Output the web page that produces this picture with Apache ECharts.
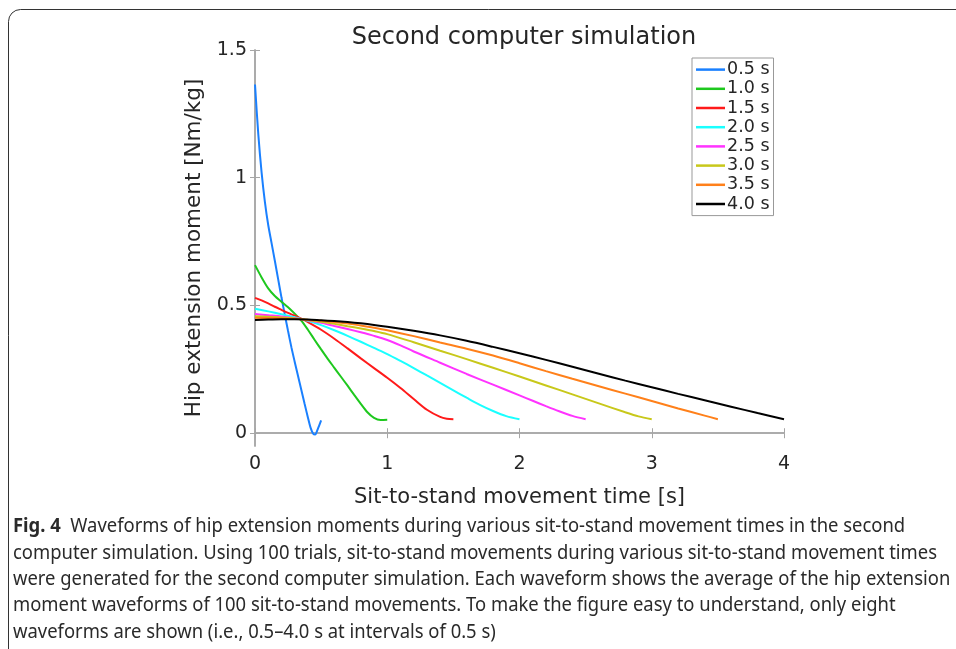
<!DOCTYPE html>
<html>
<head>
<meta charset="utf-8">
<script src="https://cdn.jsdelivr.net/npm/echarts@6/dist/echarts.min.js"></script>
<style>
html,body{margin:0;padding:0;background:#fff;}
#chart{width:956px;height:649px;}
</style>
</head>
<body>
<div id="chart"></div>
<script>
// ---- data ----
const seriesNames = ['0.5 s','1.0 s','1.5 s','2.0 s','2.5 s','3.0 s','3.5 s','4.0 s'];
const xTicks = [0,1,2,3,4];
const yTicks = [0,0.5,1,1.5];

const t05 = [0,0.025,0.05,0.075,0.1,0.125,0.15,0.175,0.2,0.225,0.25,0.275,0.3,0.325,0.35,0.375,0.4,0.42,0.44,0.455,0.47,0.485,0.5];
const v05 = [1.365,1.17,1.02,0.905,0.815,0.745,0.675,0.603,0.532,0.465,0.4,0.337,0.28,0.225,0.17,0.115,0.062,0.022,-0.002,-0.005,0.01,0.03,0.05];

const t10 = [0,0.05,0.1,0.15,0.2,0.25,0.3,0.35,0.4,0.45,0.5,0.55,0.6,0.65,0.7,0.75,0.8,0.85,0.9,0.95,1.0];
const v10 = [0.658,0.61,0.567,0.537,0.515,0.493,0.468,0.441,0.405,0.366,0.328,0.291,0.256,0.221,0.186,0.15,0.115,0.082,0.06,0.052,0.053];

const t15 = [0,0.05,0.1,0.15,0.2,0.25,0.3,0.35,0.4,0.5,0.6,0.7,0.8,0.9,1.0,1.1,1.2,1.3,1.4,1.45,1.5];
const v15 = [0.53,0.52,0.508,0.495,0.483,0.471,0.46,0.448,0.435,0.405,0.37,0.332,0.293,0.255,0.217,0.177,0.134,0.092,0.064,0.057,0.055];

const t20 = [0,0.1,0.2,0.3,0.4,0.5,0.6,0.7,0.8,0.9,1.0,1.1,1.2,1.3,1.4,1.5,1.6,1.7,1.8,1.9,2.0];
const v20 = [0.487,0.477,0.466,0.454,0.44,0.423,0.403,0.381,0.358,0.334,0.31,0.283,0.255,0.226,0.197,0.168,0.139,0.111,0.087,0.067,0.055];

const t25 = [0,0.1,0.2,0.3,0.4,0.5,0.6,0.7,0.8,0.9,1.0,1.1,1.2,1.4,1.6,1.8,2.0,2.1,2.2,2.3,2.4,2.5];
const v25 = [0.467,0.462,0.457,0.45,0.442,0.432,0.42,0.408,0.395,0.381,0.365,0.344,0.32,0.276,0.232,0.19,0.148,0.127,0.106,0.086,0.068,0.055];

const t30 = [0,0.1,0.2,0.3,0.4,0.5,0.6,0.7,0.8,0.9,1.0,1.2,1.4,1.6,1.8,2.0,2.2,2.4,2.6,2.8,2.9,3.0];
const v30 = [0.458,0.456,0.453,0.449,0.443,0.436,0.428,0.419,0.41,0.4,0.388,0.356,0.323,0.29,0.256,0.222,0.187,0.152,0.117,0.082,0.066,0.055];

const t35 = [0,0.1,0.2,0.3,0.4,0.5,0.6,0.7,0.8,0.9,1.0,1.2,1.4,1.6,1.8,2.0,2.2,2.4,2.6,2.8,3.0,3.2,3.4,3.5];
const v35 = [0.452,0.451,0.45,0.448,0.444,0.44,0.435,0.429,0.422,0.413,0.403,0.38,0.355,0.331,0.304,0.274,0.243,0.213,0.184,0.155,0.126,0.097,0.069,0.055];

const t40 = [0,0.1,0.2,0.3,0.4,0.5,0.6,0.7,0.8,0.9,1.0,1.2,1.4,1.6,1.8,2.0,2.2,2.4,2.6,2.8,3.0,3.2,3.4,3.6,3.8,4.0];
const v40 = [0.443,0.445,0.446,0.446,0.445,0.442,0.439,0.435,0.43,0.424,0.417,0.401,0.383,0.362,0.338,0.313,0.287,0.26,0.233,0.206,0.18,0.154,0.129,0.104,0.079,0.055];

const times = [t05,t10,t15,t20,t25,t30,t35,t40];
const values = [v05,v10,v15,v20,v25,v30,v35,v40];
const colors = ['#1a80ff','#1ec81e','#ff1a1a','#1affff','#ff33ff','#c8c81a','#ff801a','#000000'];

const captionLines = [
  ['Fig. 4', '  Waveforms of hip extension moments during various sit-to-stand movement times in the second'],
  ['', 'computer simulation. Using 100 trials, sit-to-stand movements during various sit-to-stand movement times'],
  ['', 'were generated for the second computer simulation. Each waveform shows the average of the hip extension'],
  ['', 'moment waveforms of 100 sit-to-stand movements. To make the figure easy to understand, only eight'],
  ['', 'waveforms are shown (i.e., 0.5\u20134.0 s at intervals of 0.5 s)']
];

// ---- chart ----
const FONT = 'DejaVu Sans';
const CAPFONT = 'Noto Sans';
const CAPSIZE = 19;
const axisGray = '#a6a6a6';
const textCol = '#262626';

// horizontal squeeze so the caption font matches the condensed look
const mctx = document.createElement('canvas').getContext('2d');
mctx.font = CAPSIZE + 'px "' + CAPFONT + '"';
const capScale = 924 / mctx.measureText(captionLines[1][1]).width;

const chart = echarts.init(document.getElementById('chart'), null, {renderer:'canvas'});

const series = seriesNames.map((n,i)=>({
  name:n, type:'line', symbol:'none', smooth:0.3,
  data: times[i].map((t,j)=>[t, values[i][j]]),
  lineStyle:{color:colors[i], width:2},
  itemStyle:{color:colors[i]},
  emphasis:{disabled:true},
  z: 2 + i
}));

const capGraphics = captionLines.map((ln,i)=>({
  type:'text', x:13, y:527 + i*26.3, scaleX:capScale, silent:true,
  style:{
    text: (ln[0] ? '{b|' + ln[0] + '}' : '') + ln[1],
    x:0, y:0, verticalAlign:'middle', align:'left',
    fill:'#2a2a2a', fontFamily:CAPFONT, fontSize:CAPSIZE,
    rich:{b:{fontWeight:'bold', fontFamily:CAPFONT, fontSize:CAPSIZE, fill:'#2a2a2a'}}
  }
}));

const option = {
  animation:false,
  backgroundColor:'#fff',
  title:{
    text:'Second computer simulation', left:519, top:21, textAlign:'center',
    textStyle:{fontFamily:FONT, fontSize:24, fontWeight:'normal', color:textCol}
  },
  legend:{
    orient:'vertical', left:692, top:58, data:seriesNames,
    icon:'rect', itemWidth:29, itemHeight:2.5, itemGap:0,
    backgroundColor:'#fff', borderColor:'#999', borderWidth:1,
    padding:[2,4,2,4],
    textStyle:{fontFamily:FONT, fontSize:17.5, color:textCol, lineHeight:19.2, padding:[0,0,0,-3]},
    selectedMode:false
  },
  grid:{left:255, right:172, top:50, bottom:203, containLabel:false},
  xAxis:[{
    type:'value', min:0, max:4, interval:1, position:'bottom',
    name:'Sit-to-stand movement time [s]', nameLocation:'middle', nameGap:41,
    nameTextStyle:{fontFamily:FONT, fontSize:21, color:textCol},
    axisLine:{show:true, lineStyle:{color:axisGray, width:1.5}},
    axisTick:{show:true, inside:true, length:5, lineStyle:{color:axisGray}},
    axisLabel:{fontFamily:FONT, fontSize:19, color:textCol, margin:9, customValues:xTicks},
    splitLine:{show:false}
  },{
    type:'value', min:0, max:4, interval:1, position:'top',
    axisLine:{show:true, lineStyle:{color:axisGray, width:1.5}},
    axisTick:{show:true, inside:true, length:5, lineStyle:{color:axisGray}},
    axisLabel:{show:false}, splitLine:{show:false}
  }],
  yAxis:[{
    type:'value', min:-0.05, max:1.5, position:'left',
    name:'Hip extension moment [Nm/kg]', nameLocation:'middle', nameGap:48, nameRotate:90,
    nameTextStyle:{fontFamily:FONT, fontSize:21.5, color:textCol},
    axisLine:{show:true, lineStyle:{color:axisGray, width:1.5}},
    axisTick:{show:true, inside:true, length:5, customValues:yTicks, lineStyle:{color:axisGray}},
    axisLabel:{fontFamily:FONT, fontSize:19, color:textCol, margin:8, customValues:yTicks,
      formatter:(v)=> String(v)},
    splitLine:{show:false}
  },{
    type:'value', min:-0.05, max:1.5, position:'right',
    axisLine:{show:true, lineStyle:{color:axisGray, width:1.5}},
    axisTick:{show:true, inside:true, length:5, customValues:yTicks, lineStyle:{color:axisGray}},
    axisLabel:{show:false}, splitLine:{show:false}
  }],
  series: series,
  graphic:[
    {type:'rect', x:8.5, y:9.5, silent:true, z:-1,
     shape:{x:0,y:0,width:1000,height:700,r:12},
     style:{fill:'none', stroke:'#333', lineWidth:1}},
    ...capGraphics
  ]
};
chart.setOption(option);
</script>
</body>
</html>
